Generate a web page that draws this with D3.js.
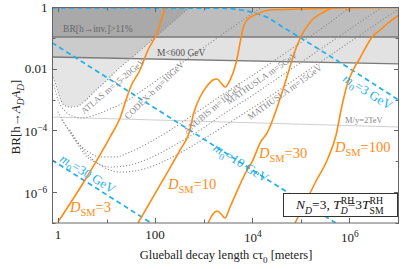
<!DOCTYPE html>
<html>
<head>
<meta charset="utf-8">
<script src="https://cdn.jsdelivr.net/npm/d3@7"></script>
<style>
  body { margin: 0; background: #fff; }
  svg text { font-family: "Liberation Serif", "DejaVu Serif", serif; }
</style>
</head>
<body>
<svg id="chart" width="407" height="269"></svg>
<script>
// ---- data (cτ in meters, BR) ----
const xDomain = [0.7516, 1.07e7];
const yDomain = [1e-7, 1];
const xTicks = [1, 10, 100, 1e3, 1e4, 1e5, 1e6, 1e7];
const xTickLabels = [[1, "1"], [100, "100"], [1e4, "10", "4"], [1e6, "10", "6"]];
const yTicks = [1, 0.1, 0.01, 1e-3, 1e-4, 1e-5, 1e-6, 1e-7];
const yTickLabels = [[1, "1"], [0.01, "0.01"], [1e-4, "10", "\u22124"], [1e-6, "10", "\u22126"]];

// excluded bands
const invBR = [[0.7516, 0.107], [1.07e7, 0.107]];
const m600Line = [[0.7516, 0.024], [1.07e7, 0.0143]];
const my2TeVLine = [[0.7516, 2.72e-4], [1.07e7, 1.29e-4]];

// projected sensitivities (dotted)
const atlas = [[0.7516, 6.25e-3], [0.95, 2.37e-3], [1.1, 1.12e-3], [1.33, 6.7e-4], [1.77, 5.7e-4],
  [2.58, 6.2e-4], [3.78, 9.7e-4], [5.79, 1.9e-3], [9.31, 3.7e-3], [15.0, 7.8e-3], [30.5, 0.0206],
  [62.2, 0.0545], [127, 0.144], [258, 0.379], [526, 1.0]];
const codexb = [[0.826, 2.96e-3], [1.0, 9.7e-4], [1.33, 4.6e-4], [1.94, 2.94e-4], [3.13, 2.53e-4],
  [5.79, 3.16e-4], [11.8, 4.95e-4], [24.0, 8.3e-4], [49.0, 1.76e-3], [127, 5.0e-3], [327, 0.0141],
  [847, 0.0404], [2190, 0.115], [5650, 0.327], [16100, 1.0]];
const anubis = [[1.0, 3.95e-4], [1.39, 1.62e-4], [1.94, 7.1e-5], [2.84, 3.37e-5], [4.56, 1.86e-5],
  [7.35, 1.38e-5], [15.0, 1.38e-5], [30.5, 2.0e-5], [78.9, 4.2e-5], [258, 1.29e-4], [847, 4.6e-4],
  [2770, 1.63e-3], [9100, 5.4e-3], [29800, 0.0191], [97700, 0.068], [3.2e5, 0.242], [1.05e6, 1.0]];
const mathusla5 = [[1.21, 2.18e-4], [2.24, 4.9e-5], [3.6, 1.6e-5], [6.37, 8.8e-6], [11.8, 6.5e-6],
  [30.5, 7.6e-6], [78.9, 1.28e-5], [258, 3.37e-5], [847, 1.03e-4], [2770, 3.67e-4], [9100, 1.21e-3],
  [29800, 4.3e-3], [97700, 0.0153], [3.2e5, 0.0545], [1.05e6, 0.194], [3.44e6, 0.69], [5.0e6, 1.0]];
const mathusla15 = [[1.77, 1.03e-4], [3.6, 2.0e-5], [7.35, 7.6e-6], [19.0, 4.5e-6], [49, 5.2e-6],
  [127, 8.8e-6], [415, 2.3e-5], [1360, 7.1e-5], [4460, 2.35e-4], [14600, 7.7e-4], [47900, 2.75e-3],
  [1.57e5, 9.8e-3], [5.14e5, 0.0348], [1.69e6, 0.124], [5.52e6, 0.44], [1.07e7, 0.86]];

// glueball mass contours (dashed)
const m0_3 = [[0.7516, 0.93], [2e3, 0.92], [6e3, 0.8], [1.2e4, 0.62], [2e4, 0.47], [4e4, 0.24],
  [1e5, 0.1], [1.07e7, 9.5e-4]];
const m0_10 = [[0.7516, 0.07], [5.3e5, 1e-7]];
const m0_30 = [[0.7516, 1.1e-5], [83, 1e-7]];

// D_SM curves (solid)
const dsm3 = [[1.0, 1.08e-7], [3.6, 2.48e-6], [11.8, 6.1e-5], [19.0, 2.53e-4], [26.4, 1.21e-3],
  [32.0, 2.75e-3], [49.0, 9.1e-3], [71.6, 0.0404], [110, 0.144], [139, 0.44], [161, 1.0]];
const dsm10 = [[44.6, 1.0e-7], [146, 2.48e-6], [327, 2.3e-5], [502, 8.3e-5], [637, 3.95e-4],
  [847, 1.21e-3], [1180, 2.75e-3], [1570, 4.3e-3], [1900, 4.65e-3], [2300, 3.44e-3], [2770, 2.55e-3],
  [3520, 4.3e-3], [4680, 0.0153], [5650, 0.068], [6520, 0.208], [7890, 0.379], [12700, 0.593],
  [23500, 0.80], [97700, 0.86], [8.26e5, 0.93], [9.5e5, 0.8], [1.1e6, 0.93], [1.07e7, 0.96]];
const dsm30 = [[1240, 1.0e-7], [1570, 1.96e-7], [1900, 2.45e-7], [2300, 1.96e-7], [2770, 1.45e-7],
  [3520, 3.3e-7], [7890, 5.2e-6], [1.0e4, 9.5e-6], [14600, 3.9e-5], [20400, 8.3e-5], [47900, 3.44e-3],
  [70000, 0.024], [88700, 0.068], [1.73e5, 0.379], [2.77e5, 0.64], [4.46e5, 0.929]];
const dsm100 = [[76900, 1.0e-7], [1.24e5, 4.4e-7], [1.99e5, 1.98e-6], [3.69e5, 1.28e-5], [5.4e5, 7.1e-5],
  [6.84e5, 4.6e-4], [9.1e5, 2.96e-3], [1.21e6, 9.1e-3], [1.69e6, 0.0225], [2.35e6, 0.0587],
  [2.98e6, 0.107], [4.36e6, 0.18], [6.37e6, 0.303], [9.31e6, 0.474], [1.07e7, 0.55]];

// ---- chart ----
const svg = d3.select("#chart");
const x = d3.scaleLog().domain(xDomain).range([52, 399]);
const y = d3.scaleLog().domain(yDomain).range([223, 7]);

const orange = "#ff8a14";
const blue = "#1cb0ee";

svg.append("clipPath").attr("id", "plot")
  .append("rect").attr("x", 52).attr("y", 7).attr("width", 347).attr("height", 216);
const plot = svg.append("g").attr("clip-path", "url(#plot)");

const line = d3.line().x(d => x(d[0])).y(d => y(d[1]));
const smooth = d3.line().x(d => x(d[0])).y(d => y(d[1])).curve(d3.curveMonotoneX);

// bands
plot.append("path")
  .attr("d", d3.area().x(d => x(d[0])).y0(y(1)).y1(d => y(d[1]))(invBR))
  .attr("fill", "#bdbdbd");
plot.append("path")
  .attr("d", d3.area().x(d => x(d[0])).y0((d, i) => y(invBR[i][1])).y1(d => y(d[1]))(m600Line))
  .attr("fill", "#e2e2e2");

// ATLAS region
plot.append("path")
  .attr("d", smooth(atlas) + "L" + x(xDomain[0]) + "," + y(1) + "Z")
  .attr("fill", "#000").attr("fill-opacity", 0.1);

plot.append("path").attr("d", line(invBR)).attr("stroke", "#7a7a7a").attr("stroke-width", 1.4).attr("fill", "none");
plot.append("path").attr("d", line(m600Line)).attr("stroke", "#7a7a7a").attr("stroke-width", 1.4).attr("fill", "none");
plot.append("path").attr("d", line(my2TeVLine)).attr("stroke", "#cfcfcf").attr("stroke-width", 1).attr("fill", "none");

// dotted sensitivity curves
[atlas, codexb, anubis, mathusla5, mathusla15].forEach(c => {
  plot.append("path").attr("d", smooth(c))
    .attr("fill", "none").attr("stroke", "#8c8c8c").attr("stroke-width", 1.2)
    .attr("stroke-linecap", "round").attr("stroke-dasharray", "0.1,3");
});

// dashed m0 contours
[m0_3, m0_10, m0_30].forEach(c => {
  plot.append("path").attr("d", smooth(c))
    .attr("fill", "none").attr("stroke", blue).attr("stroke-width", 1.7)
    .attr("stroke-dasharray", "5,3.5");
});

// D_SM curves
[dsm3, dsm10, dsm30, dsm100].forEach(c => {
  plot.append("path").attr("d", smooth(c))
    .attr("fill", "none").attr("stroke", orange).attr("stroke-width", 1.6);
});

// ---- rich text helper ----
function rich(parent, px, py, parts, size, color, anchor, rotate) {
  const g = parent.append("g").attr("transform", `translate(${px},${py}) rotate(${rotate || 0})`);
  const t = g.append("text").attr("font-size", size).attr("fill", color);
  let shift = 0, prev = null;
  parts.forEach(p => {
    const ts = t.append("tspan").text(p.t);
    const target = p.sub ? size * 0.3 : p.sup ? -size * 0.42 : 0;
    ts.attr("dy", target - shift);
    shift = target;
    if (p.it) ts.attr("font-style", "italic");
    if (p.sub || p.sup) ts.attr("font-size", size * 0.72);
    if (p.back && prev) ts.attr("dx", -prev.node().getComputedTextLength());
    prev = ts;
  });
  if (anchor === "middle") {
    const b = t.node().getBBox();
    t.attr("x", -b.width / 2).attr("y", size * 0.33);
  }
  return g;
}

// band labels
plot.append("text").attr("x", x(1.27)).attr("y", y(0.155)).attr("font-size", 9.5).attr("fill", "#666")
  .text("BR[h\u2192inv.]>11%");
plot.append("text").attr("x", x(110)).attr("y", y(0.0258)).attr("font-size", 9.5).attr("fill", "#555")
  .text("M<600 GeV");
plot.append("text").attr("x", x(8.26e5)).attr("y", y(1.74e-4)).attr("font-size", 8.5).attr("fill", "#888")
  .text("M/y=2TeV");

// sensitivity labels
const sensLabels = [
  [13.6, 2.75e-3, "ATLAS m=15-20GeV", -40],
  [97.7, 2.04e-3, "CODEX-b m=10GeV", -44],
  [1570, 5.3e-4, "ANUBIS m=10GeV", -40],
  [16100, 5.0e-3, "MATHUSLA m=5GeV", -35],
  [47900, 1.76e-3, "MATHUSLA m=15GeV", -35]
];
sensLabels.forEach(l => {
  rich(plot, x(l[0]), y(l[1]), [{t: l[2]}], 9, "#8c8c8c", "middle", l[3]);
});

// m0 labels
const m0Labels = [[2.46e6, 1.76e-3, "3"], [5930, 8.8e-6, "10"], [4.15, 3.9e-6, "30"]];
m0Labels.forEach(l => {
  rich(plot, x(l[0]), y(l[1]), [{t: "m", it: true}, {t: "0", sub: true}, {t: "=" + l[2] + " GeV"}], 13, blue, "middle", 32);
});

// D_SM labels
const dsmLabels = [[1.77, 2.27e-7, "3"], [185, 1.26e-6, "10"], [13900, 1.28e-5, "30"], [5.14e5, 2.0e-5, "100"]];
dsmLabels.forEach(l => {
  rich(plot, x(l[0]), y(l[1]), [{t: "D", it: true}, {t: "SM", sub: true}, {t: "=" + l[2]}], 14.5, orange);
});

// legend box
svg.append("rect").attr("x", 283.5).attr("y", 193.5).attr("width", 114).attr("height", 23)
  .attr("fill", "#fff").attr("stroke", "#333").attr("stroke-width", 1);
rich(svg, 340.5, 205, [
  {t: "N", it: true}, {t: "D", it: true, sub: true}, {t: "=3, "},
  {t: "T", it: true}, {t: "RH", sup: true}, {t: "D", it: true, sub: true, back: true},
  {t: "=3"}, {t: "T", it: true}, {t: "RH", sup: true}, {t: "SM", sub: true, back: true}
], 13.5, "#111", "middle");

// ---- frame and ticks ----
const frame = svg.append("g").attr("stroke", "#666").attr("stroke-width", 1);
frame.append("rect").attr("x", 52.5).attr("y", 7.5).attr("width", 346).attr("height", 215.5).attr("fill", "none");
xTicks.forEach(v => {
  const px = Math.round(x(v)) + 0.5;
  const len = xTickLabels.some(d => d[0] === v) ? 5 : 3.5;
  frame.append("line").attr("x1", px).attr("x2", px).attr("y1", 223).attr("y2", 223 - len);
  frame.append("line").attr("x1", px).attr("x2", px).attr("y1", 7).attr("y2", 7 + len);
});
yTicks.forEach(v => {
  const py = Math.round(y(v)) + 0.5;
  const len = yTickLabels.some(d => d[0] === v) ? 5 : 3.5;
  frame.append("line").attr("x1", 52).attr("x2", 52 + len).attr("y1", py).attr("y2", py);
  frame.append("line").attr("x1", 399).attr("x2", 399 - len).attr("y1", py).attr("y2", py);
});

// tick labels
xTickLabels.forEach(d => {
  const parts = [{t: d[1]}];
  if (d[2]) parts.push({t: d[2], sup: true});
  const g = rich(svg, x(d[0]), d[2] ? 242 : 239, parts, 13, "#222");
  const b = g.select("text").node().getBBox();
  g.select("text").attr("x", -b.width / 2 + (d[2] ? 1 : 0));
});
yTickLabels.forEach(d => {
  const parts = [{t: d[1]}];
  if (d[2]) parts.push({t: d[2], sup: true});
  const g = rich(svg, 47.5, y(d[0]) + (d[2] ? 6 : 4.5), parts, 13, "#222");
  const b = g.select("text").node().getBBox();
  g.select("text").attr("x", -b.width);
});

// axis titles
rich(svg, 226, 259, [{t: "Glueball decay length c"}, {t: "\u03c4"}, {t: "0", sub: true}, {t: " [meters]"}], 12.5, "#222", "middle")
  .select("text").attr("y", 0);
rich(svg, 16, 117, [{t: "BR[h\u2192"}, {t: "A", it: true}, {t: "D", it: true, sub: true}, {t: "A", it: true},
  {t: "D", it: true, sub: true}, {t: "]"}], 13, "#222", "middle", -90);
</script>
</body>
</html>
